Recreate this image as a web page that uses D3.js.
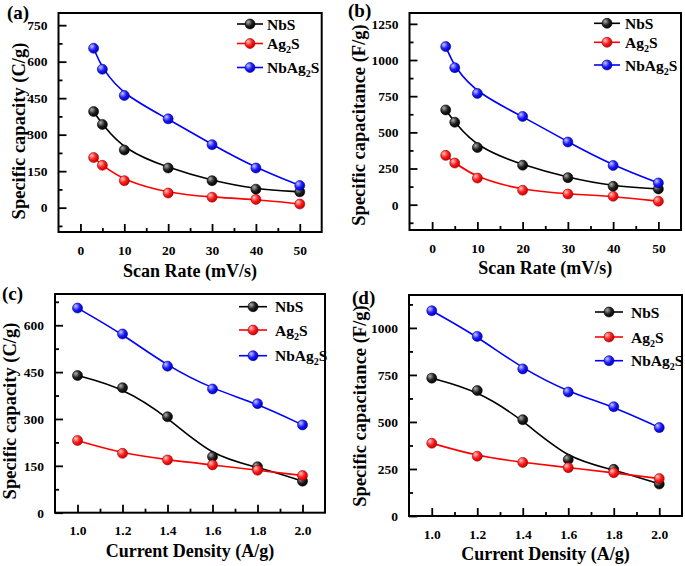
<!DOCTYPE html>
<html>
<head>
<meta charset="utf-8">
<script src="https://cdn.jsdelivr.net/npm/d3@7"></script>
<style>
  html, body { margin: 0; padding: 0; background: #fff; }
</style>
</head>
<body>
<svg id="chart" width="685" height="566"></svg>
<script>
// ---------- DATA ----------
const seriesNames = ["NbS", "Ag2S", "NbAg2S"];
const scanRates = [3, 5, 10, 20, 30, 40, 50];
const currentDensities = [1.0, 1.2, 1.4, 1.6, 1.8, 2.0];

// (a) specific capacity vs scan rate (C/g)
const capScanNbS    = [395, 342, 237, 163, 111, 76, 65];
const capScanAg2S   = [206, 174, 111, 60, 43, 34, 15];
const capScanNbAg2S = [655, 569, 461, 365, 259, 163, 91];

// (b) specific capacitance vs scan rate (F/g)
const cScanNbS    = [655, 570, 395, 273, 187, 127, 109];
const cScanAg2S   = [341, 288, 184, 100, 74, 58, 24];
const cScanNbAg2S = [1093, 947, 769, 610, 433, 271, 150];

// (c) specific capacity vs current density (C/g)
const capCdNbS    = [439, 400, 307, 179, 147, 101];
const capCdAg2S   = [231, 190, 169, 153, 136, 119];
const capCdNbAg2S = [655, 572, 469, 396, 349, 281];

// (d) specific capacitance vs current density (F/g)
const cCdNbS    = [733, 667, 512, 300, 248, 170];
const cCdAg2S   = [387, 318, 285, 257, 230, 199];
const cCdNbAg2S = [1091, 955, 782, 659, 581, 470];

// tick labels
const scanTicks = [0, 10, 20, 30, 40, 50];
const scanMinor = [5, 15, 25, 35, 45];
const cdTicks = [1.0, 1.2, 1.4, 1.6, 1.8, 2.0];
const cdMinor = [1.1, 1.3, 1.5, 1.7, 1.9];
const capTicksA = [0, 150, 300, 450, 600, 750];
const capMinorA = [-75, 75, 225, 375, 525, 675];
const cTicksB = [0, 250, 500, 750, 1000, 1250];
const cMinorB = [-125, 125, 375, 625, 875, 1125];
const capTicksC = [0, 150, 300, 450, 600];
const capMinorC = [75, 225, 375, 525, 675];
const cTicksD = [0, 250, 500, 750, 1000];
const cMinorD = [125, 375, 625, 875, 1125];

const colors = ["#000000", "#ff0000", "#0000ff"];
const FONT = "'Liberation Serif', 'Times New Roman', Times, serif";

// ---------- DRAW ----------
const svg = d3.select("#chart");
const defs = svg.append("defs");
const gradStops = [
  ["#b0b0b0", "#202020", "#000000"],
  ["#ffc8c8", "#ff1a1a", "#c00000"],
  ["#c8c8ff", "#1a1aff", "#0000b0"]
];
gradStops.forEach((s, i) => {
  const g = defs.append("radialGradient").attr("id", "ball" + i)
    .attr("cx", "35%").attr("cy", "35%").attr("r", "70%").attr("fx", "32%").attr("fy", "30%");
  g.append("stop").attr("offset", "0%").attr("stop-color", s[0]);
  g.append("stop").attr("offset", "55%").attr("stop-color", s[1]);
  g.append("stop").attr("offset", "100%").attr("stop-color", s[2]);
});

function nameText(sel, name) {
  const parts = name.split("2");
  if (parts.length === 1) { sel.text(name); return; }
  sel.append("tspan").text(parts[0]);
  sel.append("tspan").attr("font-size", "0.65em").attr("dy", 4).text("2");
  sel.append("tspan").attr("dy", -4).text(parts[1]);
}

const panels = [
  { label: "(a)", lab: [7, 19], box: [58.5, 13, 321.7, 232], xDom: [-5, 55], yDom: [-100, 800],
    x: scanRates, ys: [capScanNbS, capScanAg2S, capScanNbAg2S],
    xt: scanTicks, xm: scanMinor, yt: capTicksA, ym: capMinorA, xf: d3.format("d"),
    xTitle: "Scan Rate (mV/s)", xTitleY: 277, yTitle: "Specific capacity (C/g)", yTitlePos: [25, 131],
    leg: { x1: 237, x2: 263, tx: 267, ys: [24, 43.5, 67.5] } },
  { label: "(b)", lab: [348, 17], box: [409.5, 13, 681, 230], xDom: [-5, 55], yDom: [-175, 1325],
    x: scanRates, ys: [cScanNbS, cScanAg2S, cScanNbAg2S],
    xt: scanTicks, xm: scanMinor, yt: cTicksB, ym: cMinorB, xf: d3.format("d"),
    xTitle: "Scan Rate (mV/s)", xTitleY: 274, yTitle: "Specific capacitance (F/g)", yTitlePos: [365, 125],
    leg: { x1: 594, x2: 620, tx: 625, ys: [23.3, 42.3, 65] } },
  { label: "(c)", lab: [2, 300], box: [55, 294, 325, 512.7], xDom: [0.9, 2.1], yDom: [0, 700],
    x: currentDensities, ys: [capCdNbS, capCdAg2S, capCdNbAg2S],
    xt: cdTicks, xm: cdMinor, yt: capTicksC, ym: capMinorC, xf: d3.format(".1f"),
    xTitle: "Current Density (A/g)", xTitleY: 557, yTitle: "Specific capacity (C/g)", yTitlePos: [16, 411],
    leg: { x1: 239, x2: 267, tx: 275, ys: [306.7, 330, 355.7] } },
  { label: "(d)", lab: [352, 304], box: [409, 295, 682, 516], xDom: [0.9, 2.1], yDom: [0, 1175],
    x: currentDensities, ys: [cCdNbS, cCdAg2S, cCdNbAg2S],
    xt: cdTicks, xm: cdMinor, yt: cTicksD, ym: cMinorD, xf: d3.format(".1f"),
    xTitle: "Current Density (A/g)", xTitleY: 560, yTitle: "Specific capacitance (F/g)", yTitlePos: [366, 406],
    leg: { x1: 595, x2: 623, tx: 631, ys: [312, 337, 360.7] } }
];

panels.forEach(p => {
  const [l, t, r, b] = p.box;
  const xs = d3.scaleLinear().domain(p.xDom).range([l, r]);
  const ys = d3.scaleLinear().domain(p.yDom).range([b, t]);
  const g = svg.append("g").attr("font-family", FONT).attr("font-weight", "bold");

  const xAxis = g.append("g").attr("transform", `translate(0,${b})`)
    .call(d3.axisBottom(xs).tickValues(p.xt).tickSize(-8).tickPadding(13).tickFormat(p.xf));
  const xMinor = g.append("g").attr("transform", `translate(0,${b})`)
    .call(d3.axisBottom(xs).tickValues(p.xm).tickSize(-4).tickFormat(""));
  const yAxis = g.append("g").attr("transform", `translate(${l},0)`)
    .call(d3.axisLeft(ys).tickValues(p.yt).tickSize(-8).tickPadding(11).tickFormat(d3.format("d")));
  const yMinor = g.append("g").attr("transform", `translate(${l},0)`)
    .call(d3.axisLeft(ys).tickValues(p.ym).tickSize(-4).tickFormat(""));
  [xAxis, xMinor, yAxis, yMinor].forEach(a => {
    a.attr("font-family", FONT);
    a.select(".domain").remove();
    a.selectAll(".tick line").attr("stroke", "#000").attr("stroke-width", 1.8);
    a.selectAll("text").attr("font-weight", "bold").attr("font-size", 13.5).attr("fill", "#000");
  });
  xAxis.selectAll("text").attr("dy", "0.71em");

  g.append("rect").attr("x", l).attr("y", t).attr("width", r - l).attr("height", b - t)
    .attr("fill", "none").attr("stroke", "#000").attr("stroke-width", 2);

  p.ys.forEach((vals, i) => {
    const pts = p.x.map((xv, k) => [xv, vals[k]]);
    g.append("path").datum(pts)
      .attr("d", d3.line().x(d => xs(d[0])).y(d => ys(d[1])).curve(d3.curveBasis))
      .attr("fill", "none").attr("stroke", colors[i]).attr("stroke-width", 1.6);
  });
  p.ys.forEach((vals, i) => {
    g.selectAll(null).data(p.x.map((xv, k) => [xv, vals[k]])).enter().append("circle")
      .attr("cx", d => xs(d[0])).attr("cy", d => ys(d[1])).attr("r", 5)
      .attr("fill", `url(#ball${i})`).attr("stroke", colors[i] === "#000000" ? "#000" : d3.color(colors[i]).darker(1.2)).attr("stroke-width", 0.6);
  });

  seriesNames.forEach((nm, i) => {
    const ly = p.leg.ys[i];
    g.append("line").attr("x1", p.leg.x1).attr("x2", p.leg.x2).attr("y1", ly).attr("y2", ly)
      .attr("stroke", colors[i]).attr("stroke-width", 1.6);
    g.append("circle").attr("cx", (p.leg.x1 + p.leg.x2) / 2).attr("cy", ly).attr("r", 5)
      .attr("fill", `url(#ball${i})`).attr("stroke", colors[i] === "#000000" ? "#000" : d3.color(colors[i]).darker(1.2)).attr("stroke-width", 0.6);
    const tx = g.append("text").attr("x", p.leg.tx).attr("y", ly + 5.5)
      .attr("font-family", FONT).attr("font-size", 15.5).attr("fill", "#000");
    nameText(tx, nm);
  });

  g.append("text").attr("x", (l + r) / 2).attr("y", p.xTitleY).attr("text-anchor", "middle")
    .attr("font-family", FONT).attr("font-size", 18).text(p.xTitle);
  g.append("text").attr("transform", `translate(${p.yTitlePos[0]},${p.yTitlePos[1]}) rotate(-90)`)
    .attr("text-anchor", "middle").attr("font-family", FONT).attr("font-size", 18.5).text(p.yTitle);
  g.append("text").attr("x", p.lab[0]).attr("y", p.lab[1]).attr("font-family", FONT).attr("font-size", 19).text(p.label);
});
</script>
</body>
</html>
